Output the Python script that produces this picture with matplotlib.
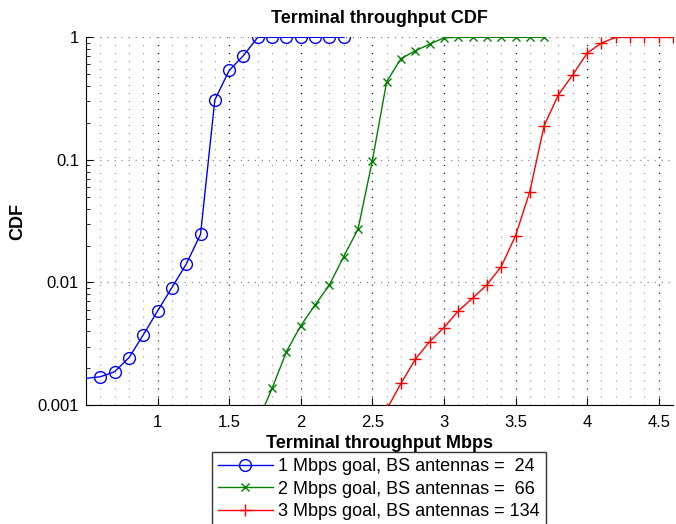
import matplotlib
matplotlib.use("Agg")
import matplotlib.pyplot as plt
from matplotlib.ticker import FixedLocator, FixedFormatter, LogLocator, NullFormatter, MultipleLocator

plt.rcParams['font.family'] = ['Liberation Sans', 'DejaVu Sans']
plt.rcParams['lines.scale_dashes'] = False

x1 = [0.5, 0.6, 0.7, 0.8, 0.9, 1.0, 1.1, 1.2, 1.3, 1.4, 1.5, 1.6, 1.7, 1.8, 1.9, 2.0, 2.1, 2.2, 2.3]
y1 = [0.00165, 0.0017, 0.00187, 0.00243, 0.00373, 0.00585, 0.00907, 0.0141, 0.0247, 0.309, 0.536, 0.71,
      1.0, 1.0, 1.0, 1.0, 1.0, 1.0, 1.0]

x2 = [1.7, 1.8, 1.9, 2.0, 2.1, 2.2, 2.3, 2.4, 2.5, 2.6, 2.7, 2.8, 2.9, 3.0, 3.1, 3.2, 3.3, 3.4, 3.5, 3.6, 3.7]
y2 = [0.00073, 0.00137, 0.00272, 0.00444, 0.00655, 0.00955, 0.01625, 0.0272, 0.0986, 0.434, 0.671, 0.776,
      0.879, 0.99, 1.0, 1.0, 1.0, 1.0, 1.0, 1.0, 1.0]

x3 = [2.6, 2.7, 2.8, 2.9, 3.0, 3.1, 3.2, 3.3, 3.4, 3.5, 3.6, 3.7, 3.8, 3.9, 4.0, 4.1, 4.2, 4.3, 4.4, 4.5, 4.6]
y3 = [0.00092, 0.0015, 0.00236, 0.00329, 0.00428, 0.00585, 0.00743, 0.00955, 0.01346, 0.024, 0.0551, 0.19,
      0.34, 0.494, 0.743, 0.898, 1.0, 1.0, 1.0, 1.0, 1.0]

labels = ["1 Mbps goal, BS antennas =  24",
          "2 Mbps goal, BS antennas =  66",
          "3 Mbps goal, BS antennas = 134"]

xticks = [1, 1.5, 2, 2.5, 3, 3.5, 4, 4.5]
xticklabels = ["1", "1.5", "2", "2.5", "3", "3.5", "4", "4.5"]
yticks = [0.001, 0.01, 0.1, 1]
yticklabels = ["0.001", "0.01", "0.1", "1"]

fig = plt.figure(figsize=(6.76, 5.24), dpi=100)
ax = fig.add_axes([86/676, 119/524, 587/676, 367.7/524])

ax.plot(x1, y1, color=(0, 0, 1), lw=1.0, marker='o', ms=8.5, mfc='none', mew=1.0,
        markevery=slice(1, None), label=labels[0], zorder=3)
ax.plot(x2, y2, color=(0, 0.5, 0), lw=1.0, marker='x', ms=5.5, mew=1.0, label=labels[1], zorder=3)
ax.plot(x3, y3, color=(1, 0, 0), lw=1.0, marker='+', ms=8, mew=1.0, label=labels[2], zorder=3)

ax.set_yscale('log')
ax.set_xlim(0.5, 4.6)
ax.set_ylim(0.001, 1)

ax.xaxis.set_major_locator(FixedLocator(xticks))
ax.xaxis.set_major_formatter(FixedFormatter(xticklabels))
ax.xaxis.set_minor_locator(MultipleLocator(0.1))
ax.yaxis.set_major_locator(FixedLocator(yticks))
ax.yaxis.set_major_formatter(FixedFormatter(yticklabels))
ax.yaxis.set_minor_locator(LogLocator(base=10, subs=range(2, 10)))
ax.yaxis.set_minor_formatter(NullFormatter())

dots = (0, (0.75, 5.0))
ax.grid(True, which='major', axis='x', color='black', linestyle=dots, linewidth=0.9)
ax.grid(True, which='minor', axis='x', color='#8c8c8c', linestyle=dots, linewidth=0.9)
ax.grid(True, which='major', axis='y', color='#707070', linestyle=(0, (0.75, 4.3)), linewidth=0.9)
ax.set_axisbelow(True)

ax.spines['top'].set_visible(False)
ax.spines['right'].set_visible(False)
ax.tick_params(axis='both', which='both', direction='in', labelsize=12)
ax.tick_params(axis='x', which='minor', length=0)
ax.tick_params(axis='both', which='major', length=5)
ax.tick_params(axis='x', which='major', pad=7)
ax.tick_params(axis='y', which='major', pad=5)
ax.tick_params(axis='y', which='minor', length=3)

ax.set_title("Terminal throughput CDF", fontsize=13, fontweight='bold', pad=10)
ax.set_xlabel("Terminal throughput Mbps", fontsize=13, fontweight='bold', labelpad=4)
ax.set_ylabel("CDF", fontsize=13, fontweight='bold', labelpad=8)

leg = fig.legend(loc='upper center', bbox_to_anchor=(379/676, 1 - 452/524), fontsize=13,
                 frameon=True, fancybox=False, edgecolor='black', handlelength=3.0,
                 borderpad=0.35, labelspacing=0.3, handletextpad=0.3, borderaxespad=0)
leg.get_frame().set_linewidth(1.0)

fig.savefig("out.png", dpi=100)
